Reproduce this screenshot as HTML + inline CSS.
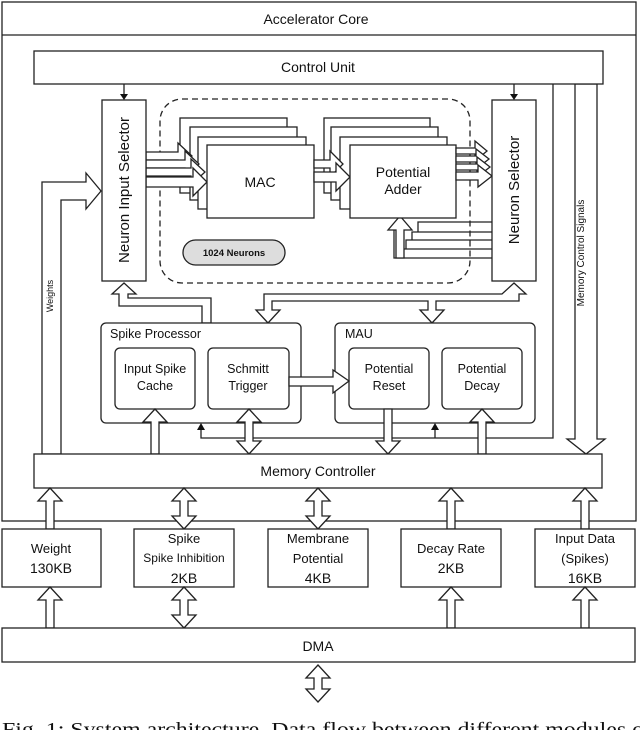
<!DOCTYPE html>
<html><head><meta charset="utf-8"><style>
html,body{margin:0;padding:0;background:#fff;width:640px;height:730px;overflow:hidden}
svg{display:block}
text{font-family:"Liberation Sans",sans-serif;fill:#111}
</style></head><body>
<svg width="640" height="730" viewBox="0 0 640 730" xmlns="http://www.w3.org/2000/svg">
<g fill="#fff" stroke="#222" stroke-width="1.3">
<rect x="2" y="2" width="634" height="519"/>
<line x1="2" y1="35" x2="636" y2="35"/>
<polygon points="575,84 575,439 567,439 586,454 605,439 597,439 597,84"/>
<polyline fill="none" points="553,84 553,438 201,438 201,426"/>
<line x1="435" y1="438" x2="435" y2="426"/>
<polygon points="42,454 42,182 86,182 86,173 101,191 86,209 86,200 61,200 61,454"/>
<rect x="34" y="51" width="569" height="33"/>
<line x1="124" y1="84" x2="124" y2="96"/><line x1="514" y1="84" x2="514" y2="96"/>
<rect x="160" y="99" width="310" height="184" rx="22" stroke-dasharray="6,4"/>
<polyline fill="none" points="492,222 418,222 418,232"/>
<polyline fill="none" points="492,232 412,232 412,240"/>
<polyline fill="none" points="492,240 406,240 406,249"/>
<polyline fill="none" points="492,249 400,249 400,258"/>
<polyline fill="none" points="492,258 394,258 394,228"/>
<rect x="180" y="118" width="107" height="75"/>
<rect x="190" y="127" width="107" height="73"/>
<rect x="198" y="137" width="108" height="72"/>
<rect x="324" y="118" width="106" height="75"/>
<rect x="331" y="127" width="107" height="73"/>
<rect x="340" y="137" width="107" height="72"/>
<polygon points="396,258 396,230 388,230 400,216 412,230 404,230 404,258"/>
<polygon points="146,152 178,152 178,143 192,156 178,169 178,160 146,160"/>
<polygon points="146,160 185,160 185,151 199,164 185,177 185,168 146,168"/>
<polygon points="146,168 191,168 191,159 205,172 191,185 191,176 146,176"/>
<polygon points="146,177 193,177 193,168 207,182 193,196 193,187 146,187"/>
<rect x="207" y="145" width="107" height="73"/>
<polygon points="314,160 330,160 330,151 343,164 330,177 330,168 314,168"/>
<polygon points="314,172 336,172 336,163 350,177 336,191 336,182 314,182"/>
<rect x="350" y="145" width="106" height="73"/>
<polygon points="456,148 475,148 475,141 487,151 475,161 475,154 456,154"/>
<polygon points="456,156 476,156 476,149 489,159 476,169 476,162 456,162"/>
<polygon points="456,164 477,164 477,157 490,167 477,177 477,170 456,170"/>
<polygon points="456,172 478,172 478,165 492,176 478,187 478,180 456,180"/>
<rect x="102" y="100" width="44" height="181"/>
<rect x="492" y="100" width="44" height="181"/>
<rect x="183" y="240" width="102" height="25" rx="12.5" fill="#ddd"/>
<polygon points="124,283 136,294 128,294 128,298 211,298 211,323 202,323 202,306 119,306 119,294 112,294"/>
<polygon points="514,283 526,294 519,294 519,301 436,301 436,310 444,310 432,323 420,310 428,310 428,301 272,301 272,310 280,310 268,323 256,310 264,310 264,294 502,294"/>
<rect x="101" y="323" width="200" height="100" rx="5"/>
<rect x="335" y="323" width="200" height="100" rx="5"/>
<rect x="115" y="348" width="80" height="61" rx="5"/>
<rect x="208" y="348" width="81" height="61" rx="5"/>
<rect x="349" y="348" width="80" height="61" rx="5"/>
<rect x="442" y="348" width="80" height="61" rx="5"/>
<polygon points="289,377 333,377 333,370 349,381 333,393 333,386 289,386"/>
<polygon points="151,454 151,422 143,422 155,409 167,422 159,422 159,454"/>
<polygon points="249,409 261,422 253,422 253,441 261,441 249,454 237,441 245,441 245,422 237,422"/>
<polygon points="384,409 384,441 376,441 388,454 400,441 392,441 392,409"/>
<polygon points="478,454 478,422 470,422 482,409 494,422 486,422 486,454"/>
<rect x="34" y="454" width="568" height="34"/>
<polygon points="46,529 46,501 38,501 50,488 62,501 54,501 54,529"/>
<polygon points="184,488 196,501 188,501 188,516 196,516 184,529 172,516 180,516 180,501 172,501"/>
<polygon points="318,488 330,501 322,501 322,516 330,516 318,529 306,516 314,516 314,501 306,501"/>
<polygon points="447,529 447,501 439,501 451,488 463,501 455,501 455,529"/>
<polygon points="581,529 581,501 573,501 585,488 597,501 589,501 589,529"/>
<rect x="2" y="529" width="99" height="58"/>
<rect x="134" y="529" width="100" height="58"/>
<rect x="268" y="529" width="100" height="58"/>
<rect x="401" y="529" width="100" height="58"/>
<rect x="535" y="529" width="100" height="58"/>
<polygon points="46,628 46,600 38,600 50,587 62,600 54,600 54,628"/>
<polygon points="184,587 196,600 188,600 188,615 196,615 184,628 172,615 180,615 180,600 172,600"/>
<polygon points="447,628 447,600 439,600 451,587 463,600 455,600 455,628"/>
<polygon points="581,628 581,600 573,600 585,587 597,600 589,600 589,628"/>
<rect x="2" y="628" width="633" height="34"/>
<polygon points="318,665 330,678 322,678 322,689 330,689 318,702 306,689 314,689 314,678 306,678"/>
</g>
<g fill="#111">
<polygon points="120,94 128,94 124,100"/><polygon points="510,94 518,94 514,100"/>
<polygon points="197,430 205,430 201,423"/><polygon points="431,430 439,430 435,423"/>
</g>
<g font-size="14" text-anchor="middle">
<text x="316" y="24">Accelerator Core</text>
<text x="318" y="72">Control Unit</text>
<text transform="translate(129,190) rotate(-90)" font-size="15">Neuron Input Selector</text>
<text transform="translate(519,190) rotate(-90)" font-size="15">Neuron Selector</text>
<text x="260" y="187">MAC</text>
<text x="403" y="177">Potential</text>
<text x="403" y="194">Adder</text>
<text x="234" y="256" font-size="9.5" font-weight="bold">1024 Neurons</text>
<text transform="translate(584,253) rotate(-90)" font-size="10">Memory Control Signals</text>
<text transform="translate(53,296) rotate(-90)" font-size="9">Weights</text>
<text x="110" y="338" font-size="12.5" text-anchor="start">Spike Processor</text>
<text x="345" y="338" font-size="12.5" text-anchor="start">MAU</text>
<text x="155" y="373" font-size="12.5">Input Spike</text>
<text x="155" y="390" font-size="12.5">Cache</text>
<text x="248" y="373" font-size="12.5">Schmitt</text>
<text x="248" y="390" font-size="12.5">Trigger</text>
<text x="389" y="373" font-size="12.5">Potential</text>
<text x="389" y="390" font-size="12.5">Reset</text>
<text x="482" y="373" font-size="12.5">Potential</text>
<text x="482" y="390" font-size="12.5">Decay</text>
<text x="318" y="476">Memory Controller</text>
<text x="51" y="553" font-size="13">Weight</text>
<text x="51" y="573">130KB</text>
<text x="184" y="543" font-size="13">Spike</text>
<text x="184" y="562" font-size="12">Spike Inhibition</text>
<text x="184" y="583">2KB</text>
<text x="318" y="543" font-size="13">Membrane</text>
<text x="318" y="563" font-size="13">Potential</text>
<text x="318" y="583">4KB</text>
<text x="451" y="553" font-size="13">Decay Rate</text>
<text x="451" y="573">2KB</text>
<text x="585" y="543" font-size="13">Input Data</text>
<text x="585" y="563" font-size="13">(Spikes)</text>
<text x="585" y="583">16KB</text>
<text x="318" y="651">DMA</text>
</g>
<text x="2" y="736" font-size="20" textLength="650" lengthAdjust="spacingAndGlyphs" style="font-family:'Liberation Serif',serif">Fig. 1: System architecture. Data flow between different modules of</text>
</svg>
</body></html>
